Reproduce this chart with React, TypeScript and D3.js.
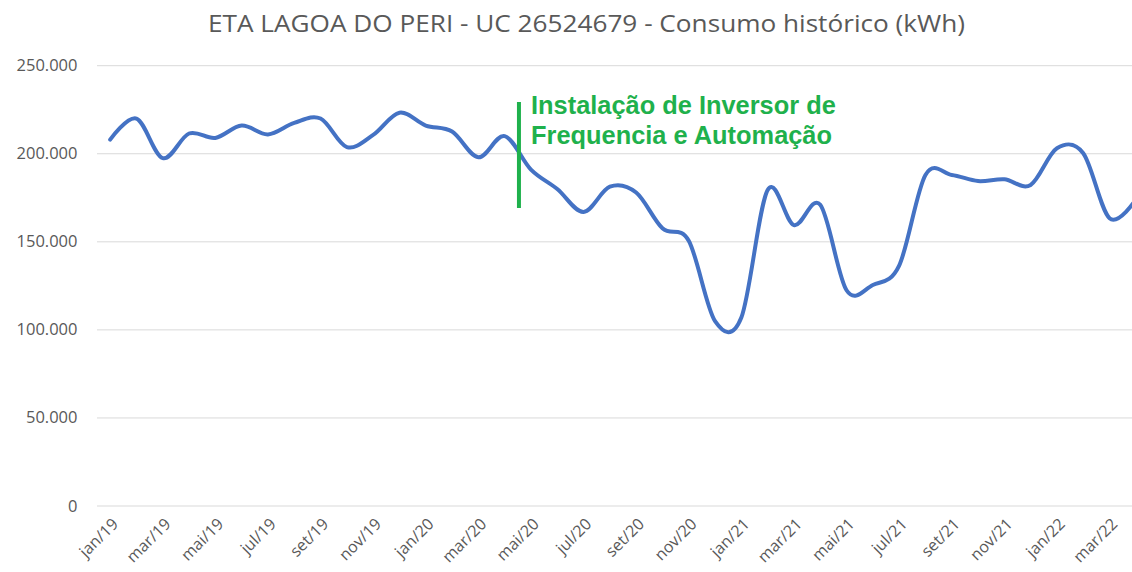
import React from "react";
import * as d3 from "d3";

const months = [
  "jan/19","fev/19","mar/19","abr/19","mai/19","jun/19","jul/19","ago/19","set/19","out/19","nov/19","dez/19",
  "jan/20","fev/20","mar/20","abr/20","mai/20","jun/20","jul/20","ago/20","set/20","out/20","nov/20","dez/20",
  "jan/21","fev/21","mar/21","abr/21","mai/21","jun/21","jul/21","ago/21","set/21","out/21","nov/21","dez/21",
  "jan/22","fev/22","mar/22","abr/22",
];

const consumo = [
  208000, 220000, 197500, 211500, 209000, 216000, 211000, 217500, 220000, 203800, 210700, 223300,
  216000, 212600, 198000, 210000, 191000, 180000, 167000, 181300, 178000, 157700, 150600, 105000,
  107000, 179400, 159500, 171000, 122500, 125500, 136500, 188000, 188000, 184500, 185500, 182300,
  203100, 200300, 163400, 174000,
];

const yTicks = [0, 50000, 100000, 150000, 200000, 250000];

const title = "ETA LAGOA DO PERI - UC 26524679 - Consumo histórico (kWh)";
const annotationLines = ["Instalação de Inversor de", "Frequencia e Automação"];
const annotationMonth = "mai/20";
const annotationRange = [169200, 229400];

const W = 1132;
const H = 572;
const plotLeft = 97;
const plotRight = 1149;
const plotTop = 65.7;
const plotBottom = 506;

const fmt = (v: number) => (v === 0 ? "0" : d3.format(",")(v).replace(/,/g, "."));

export default function App() {
  const x = d3.scalePoint<string>().domain(months).range([plotLeft, plotRight]).padding(0.5);
  const y = d3.scaleLinear().domain([0, 250000]).range([plotBottom, plotTop]);

  const line = d3
    .line<number>()
    .x((_, i) => x(months[i]) as number)
    .y((d) => y(d))
    .curve(d3.curveCardinal.tension(0));

  const annX = (x(annotationMonth) as number) - 12;
  const gray = "#595959";

  return (
    <div style={{ position: "absolute", left: 0, top: 0 }}>
      <svg width={W} height={H} style={{ display: "block", background: "#fff" }}>
        <rect x={0} y={0} width={W} height={H} fill="#fff" />
        <text
          x={586.5}
          y={31.7}
          textAnchor="middle"
          fontFamily="'Open Sans', sans-serif"
          fontSize={24.5}
          fill={gray}
          textLength={757}
          lengthAdjust="spacingAndGlyphs"
        >
          {title}
        </text>
        {yTicks.map((t) => (
          <g key={t}>
            <line x1={plotLeft} x2={plotRight} y1={y(t)} y2={y(t)} stroke="#d9d9d9" strokeWidth={1} />
            <text
              x={77.5}
              y={y(t) + 5.5}
              textAnchor="end"
              fontFamily="'Open Sans', sans-serif"
              fontSize={16.5}
              fill={gray}
            >
              {fmt(t)}
            </text>
          </g>
        ))}
        {months.map((m, i) =>
          i % 2 === 0 ? (
            <text
              key={m}
              transform={`translate(${(x(m) as number) + 9},${plotBottom + 19}) rotate(-45)`}
              textAnchor="end"
              fontFamily="'Open Sans', sans-serif"
              fontSize={16}
              fill={gray}
            >
              {m}
            </text>
          ) : null
        )}
        <path d={line(consumo) || ""} fill="none" stroke="#4472C4" strokeWidth={4} strokeLinejoin="round" strokeLinecap="round" />
        <line
          x1={annX}
          x2={annX}
          y1={y(annotationRange[0])}
          y2={y(annotationRange[1])}
          stroke="#1fb14c"
          strokeWidth={4}
        />
        {annotationLines.map((t, i) => (
          <text
            key={t}
            x={531}
            y={114 + i * 30.3}
            fontFamily="'Liberation Sans', Arial, sans-serif"
            fontWeight="bold"
            fontSize={25.4}
            fill="#1fb14c"
          >
            {t}
          </text>
        ))}
      </svg>
    </div>
  );
}
